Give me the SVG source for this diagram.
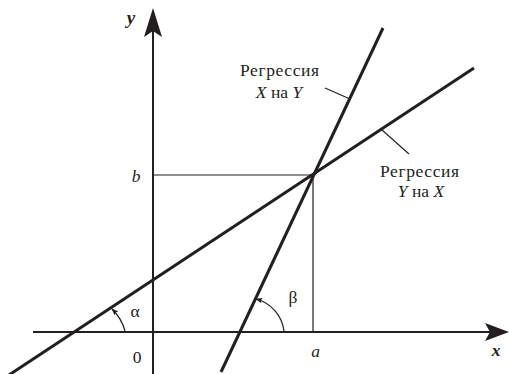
<svg xmlns="http://www.w3.org/2000/svg" width="510" height="374" viewBox="0 0 510 374">
<style>
.axis{stroke:#231f20;stroke-width:2;fill:none}
.reg{stroke:#231f20;stroke-width:3;fill:none}
.thin{stroke:#231f20;stroke-width:1.2;fill:none}
.head{fill:#231f20;stroke:none}
.lbl{font-family:"Liberation Serif","Times New Roman",serif;font-size:17.5px;text-anchor:middle;fill:#231f20}
.it{font-style:italic}
.bi{font-style:italic;font-weight:bold}
</style>
<defs>
<marker id="ah" viewBox="0 0 10 8" refX="9" refY="4" markerWidth="7" markerHeight="5.6" markerUnits="userSpaceOnUse" orient="auto">
<path d="M0,0 L10,4 L0,8 L2,4 Z" class="head"/>
</marker>
</defs>
<g id="connectors">
<line class="axis" x1="33" y1="332" x2="490" y2="332"/>
<path class="head" d="M509,332 L485,323 L490,332 L485,341 Z"/>
<line class="axis" x1="153" y1="374" x2="153" y2="30"/>
<path class="head" d="M153,8 L162,37 L153,31 L144,37 Z"/>
<line class="thin" x1="153" y1="175" x2="313" y2="175"/>
<line class="thin" x1="313" y1="175" x2="313" y2="332"/>
<line class="reg" x1="9" y1="375" x2="474" y2="68"/>
<line class="reg" x1="221" y1="372" x2="383" y2="28"/>
<line class="thin" x1="325" y1="88" x2="350" y2="99"/>
<line class="thin" x1="382" y1="130" x2="409" y2="154"/>
<path class="thin" d="M125,331 A48,48 0 0 0 112,309" marker-end="url(#ah)"/>
<path class="thin" d="M284,331 A38,38 0 0 0 256,299" marker-end="url(#ah)"/>
</g>
<g id="label-xy">
<text class="lbl" x="279.5" y="76" textLength="79">Регрессия</text>
<text class="lbl" x="279" y="98"><tspan class="it">X</tspan> на <tspan class="it">Y</tspan></text>
</g>
<g id="label-yx">
<text class="lbl" x="419.5" y="177" textLength="79">Регрессия</text>
<text class="lbl" x="421" y="197"><tspan class="it">Y</tspan> на <tspan class="it">X</tspan></text>
</g>
<g id="axis-labels">
<text class="lbl bi" x="131" y="24" style="font-size:19px">y</text>
<text class="lbl bi" x="496" y="356">x</text>
<text class="lbl it" x="136" y="182">b</text>
<text class="lbl it" x="315.5" y="357">a</text>
<text class="lbl" x="137" y="363">0</text>
<text class="lbl" x="135" y="317">α</text>
<text class="lbl" x="293" y="303">β</text>
</g>
</svg>
